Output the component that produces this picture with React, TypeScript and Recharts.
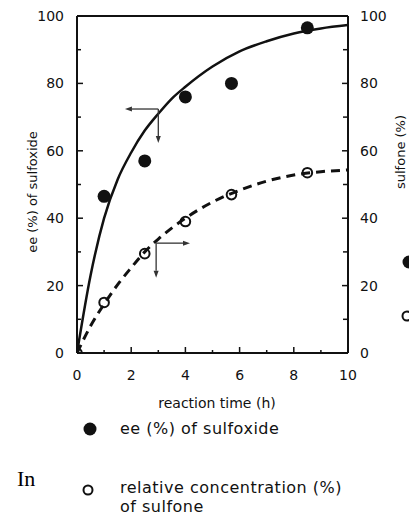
import React from "react";
import {
  ComposedChart,
  Line,
  Scatter,
  XAxis,
  YAxis,
  ReferenceLine,
} from "recharts";

// Fitted curves
const eeCurveTimes = [0, 0.5, 1, 1.5, 2, 2.5, 3, 3.5, 4, 5, 6, 7, 8, 9, 10];
const eeCurveValues = [0, 23, 40, 51.5, 59.5, 66, 71, 75.5, 79, 85, 89.5, 92.5, 94.8, 96.3, 97.3];

const sulfoneCurveTimes = [0, 0.5, 1, 1.5, 2, 2.5, 3, 4, 5, 6, 7, 8, 9, 10];
const sulfoneCurveValues = [0, 8, 14.5, 20.3, 25.3, 30, 33.8, 40, 44.8, 48.3, 51, 52.8, 53.8, 54.3];

// Measured points
const eeTimes = [1, 2.5, 4, 5.7, 8.5];
const eeValues = [46.5, 57, 76, 80, 96.5];

const sulfoneTimes = [0, 1, 2.5, 4, 5.7, 8.5];
const sulfoneValues = [0, 15, 29.5, 39, 47, 53.5];

const xTicks = [0, 1, 2, 3, 4, 5, 6, 7, 8, 9, 10];
const yTicks = [0, 10, 20, 30, 40, 50, 60, 70, 80, 90, 100];

const zip = (ts: number[], vs: number[]) => ts.map((t, i) => ({ t, v: vs[i] }));

const eeCurve = zip(eeCurveTimes, eeCurveValues);
const sulfoneCurve = zip(sulfoneCurveTimes, sulfoneCurveValues);
const eePoints = zip(eeTimes, eeValues);
const sulfonePoints = zip(sulfoneTimes, sulfoneValues);

const INK = "#111";
const FONT = "'DejaVu Sans', sans-serif";

const LeftTick = (props: any) => {
  const { x, y, payload } = props;
  const v = payload.value;
  const major = v % 20 === 0;
  return (
    <g>
      <line x1={x} x2={x + (major ? 6 : 4)} y1={y} y2={y} stroke={INK} strokeWidth={1.5} />
      {major && (
        <text x={x - 13} y={y} textAnchor="end" dominantBaseline="central" fontSize={14} fontFamily={FONT} fill={INK}>
          {v}
        </text>
      )}
    </g>
  );
};

const RightTick = (props: any) => {
  const { x, y, payload } = props;
  const v = payload.value;
  const major = v % 20 === 0;
  return (
    <g>
      <line x1={x} x2={x - (major ? 6 : 5)} y1={y} y2={y} stroke={INK} strokeWidth={1.5} />
      {major && (
        <text x={x + 12} y={y} textAnchor="start" dominantBaseline="central" fontSize={14} fontFamily={FONT} fill={INK}>
          {v}
        </text>
      )}
    </g>
  );
};

const BottomTick = (props: any) => {
  const { x, y, payload } = props;
  const v = payload.value;
  const major = v % 2 === 0;
  return (
    <g>
      <line x1={x} x2={x} y1={y} y2={y - (major ? 6 : 3)} stroke={INK} strokeWidth={1.5} />
      {major && (
        <text x={x} y={y + 22} textAnchor="middle" dominantBaseline="central" fontSize={14} fontFamily={FONT} fill={INK}>
          {v}
        </text>
      )}
    </g>
  );
};

const Arrow = (props: any) => {
  const { x1, y1, x2, y2 } = props;
  if ([x1, y1, x2, y2].some((n) => typeof n !== "number" || isNaN(n))) return null;
  const ang = Math.atan2(y2 - y1, x2 - x1);
  const L = 7;
  const W = 2.5;
  const bx = x2 - L * Math.cos(ang);
  const by = y2 - L * Math.sin(ang);
  const px = -Math.sin(ang) * W;
  const py = Math.cos(ang) * W;
  return (
    <g>
      <line x1={x1} y1={y1} x2={bx} y2={by} stroke="#333" strokeWidth={1.3} />
      <polygon points={`${x2},${y2} ${bx + px},${by + py} ${bx - px},${by - py}`} fill="#333" />
    </g>
  );
};

const FilledDot = (p: any) => <circle cx={p.cx} cy={p.cy} r={6.5} fill={INK} />;
const OpenDot = (p: any) => <circle cx={p.cx} cy={p.cy} r={4.8} fill="none" stroke={INK} strokeWidth={2} />;

export default function App() {
  return (
    <div style={{ position: "absolute", left: 0, top: 0, width: 409, height: 518, background: "#fff", overflow: "hidden" }}>
      <ComposedChart width={409} height={400} margin={{ top: 16, right: 0, bottom: 0, left: 0 }}>
        <XAxis
          type="number"
          dataKey="t"
          domain={[0, 10]}
          ticks={xTicks}
          interval={0}
          height={47}
          tickSize={0}
          tickMargin={0}
          tick={<BottomTick />}
          axisLine={{ stroke: INK, strokeWidth: 2 }}
          allowDataOverflow
        />
        <YAxis
          yAxisId="left"
          type="number"
          dataKey="v"
          domain={[0, 100]}
          ticks={yTicks}
          interval={0}
          width={77}
          tickSize={0}
          tickMargin={0}
          tick={<LeftTick />}
          axisLine={{ stroke: INK, strokeWidth: 2 }}
          allowDataOverflow
        />
        <YAxis
          yAxisId="right"
          orientation="right"
          type="number"
          dataKey="v"
          domain={[0, 100]}
          ticks={yTicks}
          interval={0}
          width={61}
          tickSize={0}
          tickMargin={0}
          tick={<RightTick />}
          axisLine={{ stroke: INK, strokeWidth: 2 }}
          allowDataOverflow
        />
        <ReferenceLine yAxisId="left" y={100} stroke={INK} strokeWidth={2} />
        <Line
          yAxisId="left"
          data={eeCurve}
          dataKey="v"
          type="monotone"
          stroke={INK}
          strokeWidth={2.5}
          dot={false}
          activeDot={false}
          isAnimationActive={false}
        />
        <Line
          yAxisId="right"
          data={sulfoneCurve}
          dataKey="v"
          type="monotone"
          stroke={INK}
          strokeWidth={3}
          strokeDasharray="9 6"
          dot={false}
          activeDot={false}
          isAnimationActive={false}
        />
        <Scatter yAxisId="left" data={eePoints} dataKey="v" shape={FilledDot} isAnimationActive={false} />
        <Scatter yAxisId="right" data={sulfonePoints} dataKey="v" shape={OpenDot} isAnimationActive={false} />
        <ReferenceLine yAxisId="left" segment={[{ x: 3.0, y: 72.4 }, { x: 1.77, y: 72.4 }]} shape={Arrow} ifOverflow="visible" />
        <ReferenceLine yAxisId="left" segment={[{ x: 3.0, y: 72.4 }, { x: 3.0, y: 62.3 }]} shape={Arrow} ifOverflow="visible" />
        <ReferenceLine yAxisId="right" segment={[{ x: 2.92, y: 32.6 }, { x: 4.17, y: 32.6 }]} shape={Arrow} ifOverflow="visible" />
        <ReferenceLine yAxisId="right" segment={[{ x: 2.92, y: 32.6 }, { x: 2.92, y: 22.3 }]} shape={Arrow} ifOverflow="visible" />
      </ComposedChart>
      <svg width={409} height={518} style={{ position: "absolute", left: 0, top: 0, pointerEvents: "none" }}>
        <text transform="translate(32,192) rotate(-90)" textAnchor="middle" dominantBaseline="central" fontSize={13} fontFamily={FONT} fill={INK}>
          ee (%) of sulfoxide
        </text>
        <text transform="translate(400,152) rotate(-90)" textAnchor="middle" dominantBaseline="central" fontSize={13} fontFamily={FONT} fill={INK}>
          sulfone (%)
        </text>
        <text x={217} y={403} textAnchor="middle" dominantBaseline="central" fontSize={14} fontFamily={FONT} fill={INK}>
          reaction time (h)
        </text>
        <circle cx={90} cy={429} r={6.5} fill={INK} />
        <text x={120} y={428} dominantBaseline="central" fontSize={16} letterSpacing={0.5} fontFamily={FONT} fill={INK}>
          ee (%) of sulfoxide
        </text>
        <circle cx={88} cy={490} r={4.5} fill="none" stroke={INK} strokeWidth={2} />
        <text x={120} y={487} dominantBaseline="central" fontSize={16} letterSpacing={0.5} fontFamily={FONT} fill={INK}>
          relative concentration (%)
        </text>
        <text x={120} y={506} dominantBaseline="central" fontSize={16} letterSpacing={0.5} fontFamily={FONT} fill={INK}>
          of sulfone
        </text>
        <text x={17} y={486} fontSize={22} fontFamily="'Liberation Serif', 'Times New Roman', serif" fill="#000">
          In
        </text>
        <circle cx={409} cy={262} r={6.5} fill={INK} />
        <circle cx={407} cy={316} r={4.5} fill="none" stroke={INK} strokeWidth={2} />
      </svg>
    </div>
  );
}
